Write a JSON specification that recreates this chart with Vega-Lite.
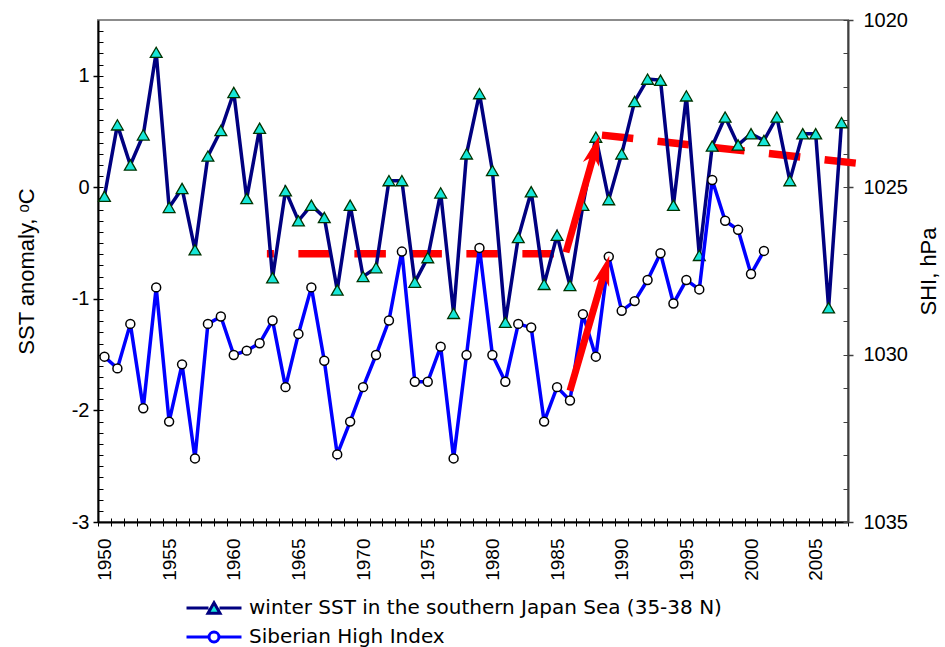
{
  "$schema": "https://vega.github.io/schema/vega-lite/v6.json",
  "width": 750,
  "height": 502,
  "padding": {"left": 15, "top": 10, "right": 2, "bottom": 2},
  "config": {
    "font": "Liberation Sans",
    "view": {"stroke": "#8c8c8c", "strokeWidth": 2},
    "axis": {"grid": false, "labelColor": "black", "titleColor": "black", "titleFontWeight": "normal", "labelFont": "Liberation Sans", "titleFont": "Liberation Sans"}
  },
  "datasets": {
    "sst": [
      {"year": 1950, "sst": -0.08}, {"year": 1951, "sst": 0.56}, {"year": 1952, "sst": 0.20}, {"year": 1953, "sst": 0.47},
      {"year": 1954, "sst": 1.21}, {"year": 1955, "sst": -0.18}, {"year": 1956, "sst": -0.01}, {"year": 1957, "sst": -0.56},
      {"year": 1958, "sst": 0.28}, {"year": 1959, "sst": 0.51}, {"year": 1960, "sst": 0.85}, {"year": 1961, "sst": -0.10},
      {"year": 1962, "sst": 0.53}, {"year": 1963, "sst": -0.81}, {"year": 1964, "sst": -0.03}, {"year": 1965, "sst": -0.30},
      {"year": 1966, "sst": -0.16}, {"year": 1967, "sst": -0.27}, {"year": 1968, "sst": -0.92}, {"year": 1969, "sst": -0.16},
      {"year": 1970, "sst": -0.80}, {"year": 1971, "sst": -0.72}, {"year": 1972, "sst": 0.06}, {"year": 1973, "sst": 0.06},
      {"year": 1974, "sst": -0.85}, {"year": 1975, "sst": -0.63}, {"year": 1976, "sst": -0.05}, {"year": 1977, "sst": -1.13},
      {"year": 1978, "sst": 0.30}, {"year": 1979, "sst": 0.84}, {"year": 1980, "sst": 0.15}, {"year": 1981, "sst": -1.21},
      {"year": 1982, "sst": -0.45}, {"year": 1983, "sst": -0.04}, {"year": 1984, "sst": -0.87}, {"year": 1985, "sst": -0.43},
      {"year": 1986, "sst": -0.88}, {"year": 1987, "sst": -0.16}, {"year": 1988, "sst": 0.45}, {"year": 1989, "sst": -0.11},
      {"year": 1990, "sst": 0.30}, {"year": 1991, "sst": 0.77}, {"year": 1992, "sst": 0.97}, {"year": 1993, "sst": 0.96},
      {"year": 1994, "sst": -0.16}, {"year": 1995, "sst": 0.82}, {"year": 1996, "sst": -0.61}, {"year": 1997, "sst": 0.37},
      {"year": 1998, "sst": 0.63}, {"year": 1999, "sst": 0.38}, {"year": 2000, "sst": 0.48}, {"year": 2001, "sst": 0.42},
      {"year": 2002, "sst": 0.63}, {"year": 2003, "sst": 0.06}, {"year": 2004, "sst": 0.48}, {"year": 2005, "sst": 0.48},
      {"year": 2006, "sst": -1.08}, {"year": 2007, "sst": 0.58}
    ],
    "shi": [
      {"year": 1950, "shi": 1030.06}, {"year": 1951, "shi": 1030.41}, {"year": 1952, "shi": 1029.08}, {"year": 1953, "shi": 1031.60},
      {"year": 1954, "shi": 1027.99}, {"year": 1955, "shi": 1032.00}, {"year": 1956, "shi": 1030.29}, {"year": 1957, "shi": 1033.10},
      {"year": 1958, "shi": 1029.08}, {"year": 1959, "shi": 1028.86}, {"year": 1960, "shi": 1030.01}, {"year": 1961, "shi": 1029.88},
      {"year": 1962, "shi": 1029.66}, {"year": 1963, "shi": 1028.98}, {"year": 1964, "shi": 1030.97}, {"year": 1965, "shi": 1029.38},
      {"year": 1966, "shi": 1027.99}, {"year": 1967, "shi": 1030.18}, {"year": 1968, "shi": 1032.98}, {"year": 1969, "shi": 1032.00},
      {"year": 1970, "shi": 1030.97}, {"year": 1971, "shi": 1030.01}, {"year": 1972, "shi": 1028.98}, {"year": 1973, "shi": 1026.92},
      {"year": 1974, "shi": 1030.81}, {"year": 1975, "shi": 1030.81}, {"year": 1976, "shi": 1029.76}, {"year": 1977, "shi": 1033.10},
      {"year": 1978, "shi": 1030.01}, {"year": 1979, "shi": 1026.81}, {"year": 1980, "shi": 1030.01}, {"year": 1981, "shi": 1030.81},
      {"year": 1982, "shi": 1029.08}, {"year": 1983, "shi": 1029.19}, {"year": 1984, "shi": 1032.00}, {"year": 1985, "shi": 1030.97},
      {"year": 1986, "shi": 1031.37}, {"year": 1987, "shi": 1028.79}, {"year": 1988, "shi": 1030.06}, {"year": 1989, "shi": 1027.07},
      {"year": 1990, "shi": 1028.69}, {"year": 1991, "shi": 1028.40}, {"year": 1992, "shi": 1027.77}, {"year": 1993, "shi": 1026.97},
      {"year": 1994, "shi": 1028.47}, {"year": 1995, "shi": 1027.77}, {"year": 1996, "shi": 1028.05}, {"year": 1997, "shi": 1024.78},
      {"year": 1998, "shi": 1026.00}, {"year": 1999, "shi": 1026.27}, {"year": 2000, "shi": 1027.59}, {"year": 2001, "shi": 1026.90}
    ],
    "trendFlat": [{"year": 1962.56, "v": -0.595}, {"year": 1985.4, "v": -0.595}],
    "trendSlope": [{"year": 1988.47, "v": 0.468}, {"year": 2008.1, "v": 0.217}],
    "arrowShaft": [
      {"arrow": 1, "year": 1985.69, "v": -0.583}, {"arrow": 1, "year": 1987.84, "v": 0.291},
      {"arrow": 2, "year": 1986.0, "v": -1.823}, {"arrow": 2, "year": 1988.6, "v": -0.785}
    ],
    "arrowHead": [{"arrow": 1, "year": 1988.26, "v": 0.464}, {"arrow": 2, "year": 1989.04, "v": -0.613}],
    "legend": [{"series": "winter SST in the southern Japan Sea (35-38 N)"}, {"series": "Siberian High Index"}]
  },
  "resolve": {"scale": {"y": "independent"}, "axis": {"x": "independent", "y": "independent"}},
  "layer": [
    {
      "data": {"name": "trendFlat"},
      "mark": {"type": "line", "color": "#ff0000", "strokeWidth": 7.5, "strokeDash": [31.5, 24.5], "strokeDashOffset": 24.5, "strokeCap": "butt"},
      "encoding": {
        "x": {"field": "year", "type": "quantitative", "scale": {"domain": [1949.5, 2007.5], "nice": false, "zero": false},
          "axis": {"orient": "bottom", "values": [1950, 1955, 1960, 1965, 1970, 1975, 1980, 1985, 1990, 1995, 2000, 2005], "format": "d", "labelExpr": "'' + datum.value", "ticks": false, "tickSize": 0, "labelPadding": 16, "labelAngle": 270, "labelFontSize": 19, "domainColor": "black", "domainWidth": 2, "title": null}},
        "y": {"field": "v", "type": "quantitative", "scale": {"domain": [-3, 1.5], "nice": false, "zero": false},
          "axis": {"orient": "left", "values": [-3, -2, -1, 0, 1], "labelExpr": "'' + datum.value", "tickSize": 5, "tickColor": "black", "tickWidth": 1.5, "labelPadding": 4, "labelFontSize": 20, "domainColor": "black", "domainWidth": 2, "title": "SST anomaly, ᵒC", "titleFontSize": 22, "titlePadding": 33}}
      }
    },
    {
      "data": {"name": "trendSlope"},
      "mark": {"type": "line", "color": "#ff0000", "strokeWidth": 7.5, "strokeDash": [31.5, 24.5], "strokeCap": "butt"},
      "encoding": {
        "x": {"field": "year", "type": "quantitative", "scale": {"domain": [1949.5, 2007.5], "nice": false, "zero": false},
          "axis": {"orient": "bottom", "values": [1949.5, 1950.5, 1951.5, 1952.5, 1953.5, 1954.5, 1955.5, 1956.5, 1957.5, 1958.5, 1959.5, 1960.5, 1961.5, 1962.5, 1963.5, 1964.5, 1965.5, 1966.5, 1967.5, 1968.5, 1969.5, 1970.5, 1971.5, 1972.5, 1973.5, 1974.5, 1975.5, 1976.5, 1977.5, 1978.5, 1979.5, 1980.5, 1981.5, 1982.5, 1983.5, 1984.5, 1985.5, 1986.5, 1987.5, 1988.5, 1989.5, 1990.5, 1991.5, 1992.5, 1993.5, 1994.5, 1995.5, 1996.5, 1997.5, 1998.5, 1999.5, 2000.5, 2001.5, 2002.5, 2003.5, 2004.5, 2005.5, 2006.5, 2007.5], "labels": false, "domain": false, "tickSize": 4, "tickColor": "black", "tickWidth": 1, "title": null}},
        "y": {"field": "v", "type": "quantitative", "scale": {"domain": [-3, 1.5], "nice": false, "zero": false},
          "axis": {"orient": "left", "values": [-3, -2.9, -2.8, -2.7, -2.6, -2.5, -2.4, -2.3, -2.2, -2.1, -2, -1.9, -1.8, -1.7, -1.6, -1.5, -1.4, -1.3, -1.2, -1.1, -1, -0.9, -0.8, -0.7, -0.6, -0.5, -0.4, -0.3, -0.2, -0.1, 0, 0.1, 0.2, 0.3, 0.4, 0.5, 0.6, 0.7, 0.8, 0.9, 1, 1.1, 1.2, 1.3, 1.4], "labels": false, "domain": false, "offset": -5, "tickSize": 5, "tickColor": "black", "tickWidth": 1, "title": null}}
      }
    },
    {
      "data": {"name": "sst"},
      "mark": {"type": "line", "color": "#000080", "strokeWidth": 3.5},
      "encoding": {
        "x": {"field": "year", "type": "quantitative", "scale": {"domain": [1949.5, 2007.5], "nice": false, "zero": false},
          "axis": {"orient": "bottom", "values": [1949.5, 1950.5, 1951.5, 1952.5, 1953.5, 1954.5, 1955.5, 1956.5, 1957.5, 1958.5, 1959.5, 1960.5, 1961.5, 1962.5, 1963.5, 1964.5, 1965.5, 1966.5, 1967.5, 1968.5, 1969.5, 1970.5, 1971.5, 1972.5, 1973.5, 1974.5, 1975.5, 1976.5, 1977.5, 1978.5, 1979.5, 1980.5, 1981.5, 1982.5, 1983.5, 1984.5, 1985.5, 1986.5, 1987.5, 1988.5, 1989.5, 1990.5, 1991.5, 1992.5, 1993.5, 1994.5, 1995.5, 1996.5, 1997.5, 1998.5, 1999.5, 2000.5, 2001.5, 2002.5, 2003.5, 2004.5, 2005.5, 2006.5, 2007.5], "labels": false, "domain": false, "offset": -4, "tickSize": 4, "tickColor": "black", "tickWidth": 1, "title": null}},
        "y": {"field": "sst", "type": "quantitative", "scale": {"domain": [-3, 1.5], "nice": false, "zero": false}, "axis": null}
      }
    },
    {
      "data": {"name": "sst"},
      "mark": {"type": "point", "shape": "triangle-up", "size": 140, "filled": true, "fill": "#16e6d8", "stroke": "#003300", "strokeWidth": 1.3, "opacity": 1},
      "encoding": {
        "x": {"field": "year", "type": "quantitative", "scale": {"domain": [1949.5, 2007.5], "nice": false, "zero": false}, "axis": null},
        "y": {"field": "sst", "type": "quantitative", "scale": {"domain": [-3, 1.5], "nice": false, "zero": false}, "axis": null}
      }
    },
    {
      "data": {"name": "shi"},
      "mark": {"type": "line", "color": "#0000ff", "strokeWidth": 3.5},
      "encoding": {
        "x": {"field": "year", "type": "quantitative", "scale": {"domain": [1949.5, 2007.5], "nice": false, "zero": false}, "axis": null},
        "y": {"field": "shi", "type": "quantitative", "scale": {"domain": [1020, 1035], "reverse": true, "nice": false, "zero": false},
          "axis": {"orient": "right", "values": [1020, 1025, 1030, 1035], "format": "d", "tickSize": 5, "tickColor": "#404040", "tickWidth": 1.5, "labelPadding": 10, "labelFontSize": 20, "domainColor": "#404040", "domainWidth": 2, "title": "SHI, hPa", "titleFontSize": 22, "titleAngle": 270, "titleBaseline": "top", "titlePadding": 11}}
      }
    },
    {
      "data": {"name": "shi"},
      "mark": {"type": "point", "shape": "circle", "size": 80, "filled": true, "fill": "white", "stroke": "black", "strokeWidth": 1.5, "opacity": 1},
      "encoding": {
        "x": {"field": "year", "type": "quantitative", "scale": {"domain": [1949.5, 2007.5], "nice": false, "zero": false}, "axis": null},
        "y": {"field": "shi", "type": "quantitative", "scale": {"domain": [1020, 1035], "reverse": true, "nice": false, "zero": false},
          "axis": {"orient": "right", "values": [1020, 1021, 1022, 1023, 1024, 1025, 1026, 1027, 1028, 1029, 1030, 1031, 1032, 1033, 1034, 1035], "labels": false, "domain": false, "offset": -5, "tickSize": 5, "tickColor": "#404040", "tickWidth": 1, "title": null}}
      }
    },
    {
      "data": {"name": "arrowShaft"},
      "mark": {"type": "line", "color": "#ff0000", "strokeWidth": 7, "strokeCap": "butt"},
      "encoding": {
        "detail": {"field": "arrow", "type": "nominal"},
        "x": {"field": "year", "type": "quantitative", "scale": {"domain": [1949.5, 2007.5], "nice": false, "zero": false}, "axis": null},
        "y": {"field": "v", "type": "quantitative", "scale": {"domain": [-3, 1.5], "nice": false, "zero": false}, "axis": null}
      }
    },
    {
      "data": {"name": "arrowHead"},
      "mark": {"type": "point", "shape": "M0,0L0.45,1.6L0,1.15L-0.45,1.6Z", "size": 1406, "angle": 16, "filled": true, "fill": "#ff0000", "strokeWidth": 0, "opacity": 1},
      "encoding": {
        "x": {"field": "year", "type": "quantitative", "scale": {"domain": [1949.5, 2007.5], "nice": false, "zero": false}, "axis": null},
        "y": {"field": "v", "type": "quantitative", "scale": {"domain": [-3, 1.5], "nice": false, "zero": false}, "axis": null}
      }
    },
    {
      "data": {"name": "legend"},
      "transform": [{"filter": "datum.series == 'none'"}],
      "mark": {"type": "point", "filled": true, "opacity": 1},
      "encoding": {
        "shape": {"field": "series", "type": "nominal",
          "scale": {"domain": ["winter SST in the southern Japan Sea (35-38 N)", "Siberian High Index"],
            "range": ["M-3,0H-0.6M0.6,0H3M0,-0.567L0.654,0.567L-0.654,0.567Z", "M-3,0H-0.58M0.58,0H3M-0.545,0A0.545,0.545,0,1,1,0.545,0A0.545,0.545,0,1,1,-0.545,0Z"]},
          "legend": {"orient": "none", "legendX": 105, "legendY": 577, "direction": "vertical", "title": null, "padding": 0, "symbolSize": 336, "symbolStrokeWidth": 3, "labelOffset": 24, "labelFont": "DejaVu Sans", "labelFontSize": 20, "labelColor": "black", "rowPadding": 6, "labelLimit": 0}},
        "fill": {"field": "series", "type": "nominal",
          "scale": {"domain": ["winter SST in the southern Japan Sea (35-38 N)", "Siberian High Index"], "range": ["#16e6d8", "white"]}},
        "stroke": {"field": "series", "type": "nominal",
          "scale": {"domain": ["winter SST in the southern Japan Sea (35-38 N)", "Siberian High Index"], "range": ["#000080", "#0000ff"]}}
      }
    }
  ]
}
